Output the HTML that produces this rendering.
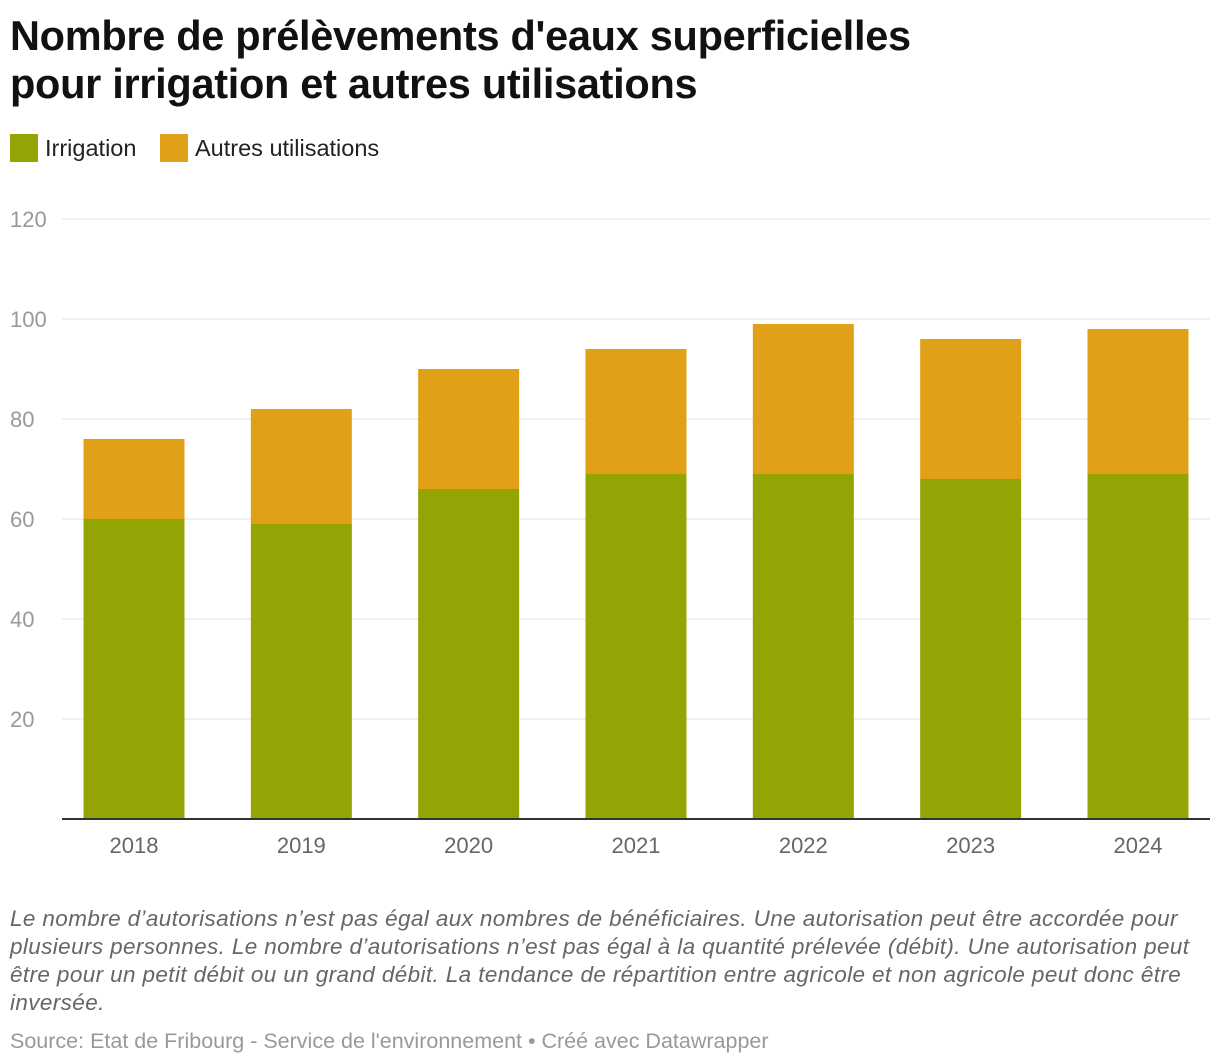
<!DOCTYPE html>
<html><head><meta charset="utf-8"><style>
body{margin:0;width:1220px;height:1064px;background:#fff;font-family:"Liberation Sans",sans-serif;overflow:hidden;position:relative}
h1{position:absolute;left:10px;top:12px;margin:0;font-size:41.5px;line-height:48px;font-weight:bold;color:#111;letter-spacing:-0.3px}
.leg{position:absolute;top:134px;height:28px;display:flex;align-items:center;font-size:23.5px;color:#222}
.sw{width:28px;height:28px;margin-right:7px}
.note{position:absolute;left:10px;top:905px;width:1195px;font-size:22.5px;line-height:28px;font-style:italic;color:#666;letter-spacing:0.38px}
.src{position:absolute;left:10px;top:1029px;font-size:21.5px;color:#999}
</style></head><body>
<h1>Nombre de prélèvements d'eaux superficielles<br>pour irrigation et autres utilisations</h1>
<div class="leg" style="left:10px"><div class="sw" style="background:#95a405"></div>Irrigation</div>
<div class="leg" style="left:160px"><div class="sw" style="background:#e0a017"></div>Autres utilisations</div>
<svg id="chart" width="1220" height="880" style="position:absolute;left:0;top:0"></svg>
<div class="note">Le nombre d’autorisations n’est pas égal aux nombres de bénéficiaires. Une autorisation peut être accordée pour plusieurs personnes. Le nombre d’autorisations n’est pas égal à la quantité prélevée (débit). Une autorisation peut être pour un petit débit ou un grand débit. La tendance de répartition entre agricole et non agricole peut donc être inversée.</div>
<div class="src">Source: Etat de Fribourg - Service de l'environnement • Créé avec Datawrapper</div>
<script>
const categories=["2018","2019","2020","2021","2022","2023","2024"];
const irrigation=[60,59,66,69,69,68,69];
const autres=[16,23,24,25,30,28,29];
const yTicks=[20,40,60,80,100,120];
const svg=document.getElementById('chart');
const NS="http://www.w3.org/2000/svg";
const y=v=>819-v*5;
const x=i=>134+i*167.33;
function mk(t,a){const e=document.createElementNS(NS,t);for(const k in a)e.setAttribute(k,a[k]);svg.appendChild(e);return e;}
yTicks.forEach(t=>{
 const l=mk('line',{x1:62,x2:1210,y1:y(t),y2:y(t),stroke:'#e0e0e0','stroke-width':1});
 
 
 const tx=mk('text',{x:10,y:y(t)+8,'font-size':22,fill:'#999','font-family':'Liberation Sans, sans-serif'});
 tx.textContent=t;
 
 
});
categories.forEach((c,i)=>{
 const b1=mk('rect',{x:x(i)-50.5,y:y(irrigation[i]),width:101,height:y(0)-y(irrigation[i]),fill:'#95a405'});
 
 
 const tot=irrigation[i]+autres[i];
 const b2=mk('rect',{x:x(i)-50.5,y:y(tot),width:101,height:y(irrigation[i])-y(tot),fill:'#e0a017'});
 
 
 const tx=mk('text',{x:x(i),y:853,'font-size':22,fill:'#666','text-anchor':'middle','font-family':'Liberation Sans, sans-serif'});
 tx.textContent=c;
 
 
});
const base=mk('line',{x1:62,x2:1210,y1:819,y2:819,stroke:'#333','stroke-width':2});


</script>
</body></html>
